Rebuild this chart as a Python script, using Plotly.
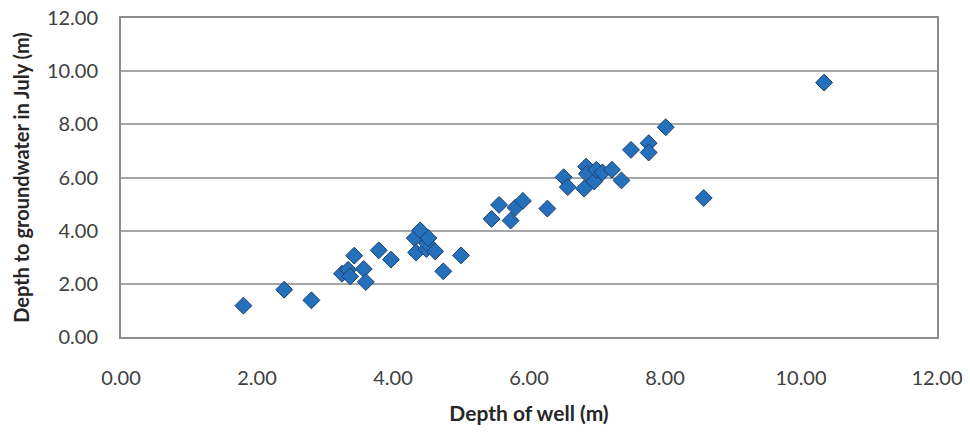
import plotly.graph_objects as go

depth_of_well = [1.80, 2.40, 2.80, 3.25, 3.34, 3.37, 3.43, 3.57, 3.60, 3.79, 3.97,
                 4.32, 4.34, 4.40, 4.49, 4.50, 4.52, 4.62, 4.74, 5.00,
                 5.45, 5.56, 5.73, 5.80, 5.91, 6.27, 6.51, 6.57, 6.81, 6.84,
                 6.85, 6.96, 6.99, 7.08, 7.22, 7.36, 7.50, 7.76, 7.76, 8.01,
                 8.57, 10.34]
depth_gw_july = [1.18, 1.78, 1.38, 2.38, 2.53, 2.28, 3.06, 2.56, 2.07, 3.26, 2.91,
                 3.72, 3.18, 4.01, 3.31, 3.53, 3.72, 3.22, 2.47, 3.07,
                 4.44, 4.97, 4.38, 4.87, 5.12, 4.83, 6.01, 5.64, 5.58, 6.41,
                 6.14, 5.85, 6.29, 6.19, 6.29, 5.89, 7.04, 7.29, 6.94, 7.89,
                 5.23, 9.57]

tick_vals = [0, 2, 4, 6, 8, 10, 12]
tick_text = ["0.00", "2.00", "4.00", "6.00", "8.00", "10.00", "12.00"]

fig = go.Figure(go.Scatter(
    x=depth_of_well, y=depth_gw_july, mode="markers",
    marker=dict(symbol="diamond", size=13, color="#2470BA",
                line=dict(color="#1B3F6E", width=1)),
    showlegend=False, cliponaxis=False))

font_family = "Lato, 'Open Sans', sans-serif"
fig.update_layout(
    width=970, height=434,
    margin=dict(l=121, r=33, t=18, b=97),
    paper_bgcolor="white", plot_bgcolor="white",
    font=dict(family=font_family, color="#404040", size=20),
    xaxis=dict(range=[0, 12], tickvals=tick_vals, ticktext=tick_text,
               showgrid=False, zeroline=False, automargin=False,
               ticklabeloverflow="allow",
               showline=True, mirror=True, linecolor="#8c8c8c", linewidth=2,
               ticks="", ticklabelstandoff=22,
               title=dict(text="<b>Depth of well (m)</b>", font=dict(size=21, color="#262626"), standoff=18)),
    yaxis=dict(range=[0, 12], tickvals=tick_vals, ticktext=tick_text,
               showgrid=True, gridcolor="#a6a6a6", gridwidth=1.5, zeroline=False, automargin=False,
               ticklabeloverflow="allow",
               showline=True, mirror=True, linecolor="#8c8c8c", linewidth=2,
               ticks="", ticklabelstandoff=17,
               title=dict(text="<b>Depth to groundwater in July (m)</b>", font=dict(size=20, color="#262626"), standoff=12)),
)

# remove the page's default 8px body margin so the figure fills the window
fig.write_html("out.html", config={"displayModeBar": False},
               post_script="document.body.style.margin='0';")
